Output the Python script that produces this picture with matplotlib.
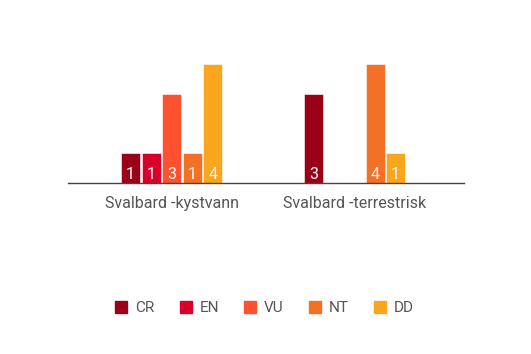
import matplotlib.pyplot as plt
import numpy as np
from matplotlib.lines import Line2D

plt.rcParams['font.family'] = ['Roboto', 'DejaVu Sans']

groups = ["Svalbard -kystvann", "Svalbard -terrestrisk"]
categories = ["CR", "EN", "VU", "NT", "DD"]
colors = ["#9a0018", "#d8002b", "#fe5130", "#f37026", "#f9a61e"]
kystvann = [1, 1, 3, 1, 4]
terrestrisk = [3, 0, 0, 4, 1]

fig = plt.figure(figsize=(5.31, 3.54), dpi=100)
ax = fig.add_axes([0.128, 0.483, 0.746, 0.353])

x = np.arange(len(groups))
width = 0.104
step = 0.112
values = np.array([kystvann, terrestrisk])

for i, cat in enumerate(categories):
    offs = (i - 2) * step
    for g in range(len(groups)):
        v = values[g, i]
        if v == 0:
            continue
        ax.bar(x[g] + offs, v, width, color=colors[i], edgecolor="#ffffff",
               linewidth=0.4)
        ax.text(x[g] + offs, 0.3, str(v), color="white", ha="center",
                va="center", fontsize=11.5)

ax.set_xlim(-0.566, 1.598)
ax.set_ylim(0, 4.2)
for s in ["top", "right", "left"]:
    ax.spines[s].set_visible(False)
ax.spines["bottom"].set_color("#444444")
ax.spines["bottom"].set_linewidth(1)
ax.set_yticks([])
ax.set_xticks(x)
ax.set_xticklabels(groups, fontsize=11.5, color="#555555")
ax.tick_params(axis="x", length=0, pad=9)

handles = [Line2D([], [], marker="s", linestyle="none", markersize=8,
                  markerfacecolor=c, markeredgecolor=c) for c in colors]
fig.legend(handles, categories, loc="center", bbox_to_anchor=(0.495, 0.13),
           ncol=5, frameon=False, fontsize=11, labelcolor="#555555",
           handletextpad=0.3, columnspacing=1.45, handlelength=1.2)

fig.savefig("out.png", dpi=100)
